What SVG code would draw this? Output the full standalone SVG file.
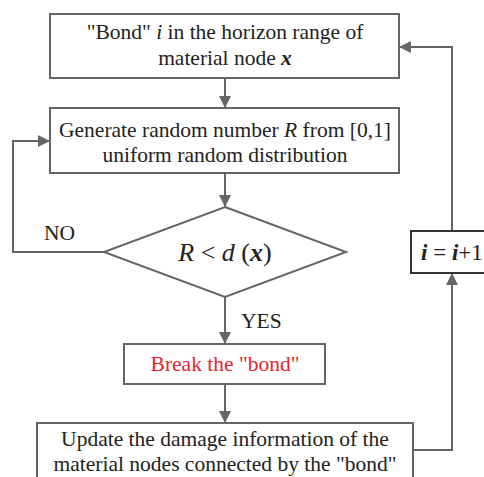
<svg xmlns="http://www.w3.org/2000/svg" width="484" height="477" viewBox="0 0 484 477">
<style>
.box{fill:#fff;stroke:#666;stroke-width:2}
.ln{fill:none;stroke:#666;stroke-width:2}
.t{font-family:"Liberation Serif",serif;font-size:21.5px;fill:#222;text-anchor:middle}
.lb{font-family:"Liberation Serif",serif;font-size:21.5px;fill:#222}
</style>
<defs>
<marker id="a" viewBox="0 0 12 12" refX="12" refY="6" markerWidth="12" markerHeight="12" orient="auto" markerUnits="userSpaceOnUse">
<path d="M0,0 L12,6 L0,12 z" fill="#666"/>
</marker>
</defs>
<rect width="484" height="477" fill="#fff"/>
<g id="connectors">
<path class="ln" d="M225,78 V108" marker-end="url(#a)"/>
<path class="ln" d="M225,173 V207" marker-end="url(#a)"/>
<path class="ln" d="M104,252 H13 V141 H50" marker-end="url(#a)"/>
<path class="ln" d="M225,297 V344" marker-end="url(#a)"/>
<path class="ln" d="M225,384 V423" marker-end="url(#a)"/>
<path class="ln" d="M413,450 H452 V273" marker-end="url(#a)"/>
<path class="ln" d="M452,231 V47 H399" marker-end="url(#a)"/>
<text class="lb" x="44" y="240">NO</text>
<text class="lb" x="241" y="328">YES</text>
</g>
<g id="n1">
<rect class="box" x="50" y="14" width="349" height="64"/>
<text class="t" x="225" y="39">"Bond" <tspan font-style="italic">i</tspan> in the horizon range of</text>
<text class="t" x="225" y="65">material node <tspan font-style="italic" font-weight="bold">x</tspan></text>
</g>
<g id="n2">
<rect class="box" x="50" y="108" width="349" height="65"/>
<text class="t" x="225" y="137">Generate random number <tspan font-style="italic">R</tspan> from [0,1]</text>
<text class="t" x="225" y="162">uniform random distribution</text>
</g>
<g id="n3">
<path class="box" d="M225,207 L346,252 L225,297 L104,252 Z"/>
<text class="t" x="225" y="261" style="font-size:26px"><tspan font-style="italic">R</tspan> &lt; <tspan font-style="italic">d</tspan> (<tspan font-style="italic" font-weight="bold">x</tspan>)</text>
</g>
<g id="n4">
<rect class="box" x="124" y="344" width="201" height="40"/>
<text class="t" x="225" y="371" style="fill:#e8262b">Break the "bond"</text>
</g>
<g id="n5">
<rect class="box" x="37" y="423" width="376" height="60"/>
<text class="t" x="225" y="446">Update the damage information of the</text>
<text class="t" x="225" y="471">material nodes connected by the "bond"</text>
</g>
<g id="n6">
<rect x="411" y="231" width="80" height="42" fill="#fff" stroke="#333" stroke-width="2"/>
<text class="lb" x="421" y="260" style="font-size:23px"><tspan font-style="italic" font-weight="bold">i</tspan> = <tspan font-style="italic" font-weight="bold">i</tspan>+1</text>
</g>
</svg>
